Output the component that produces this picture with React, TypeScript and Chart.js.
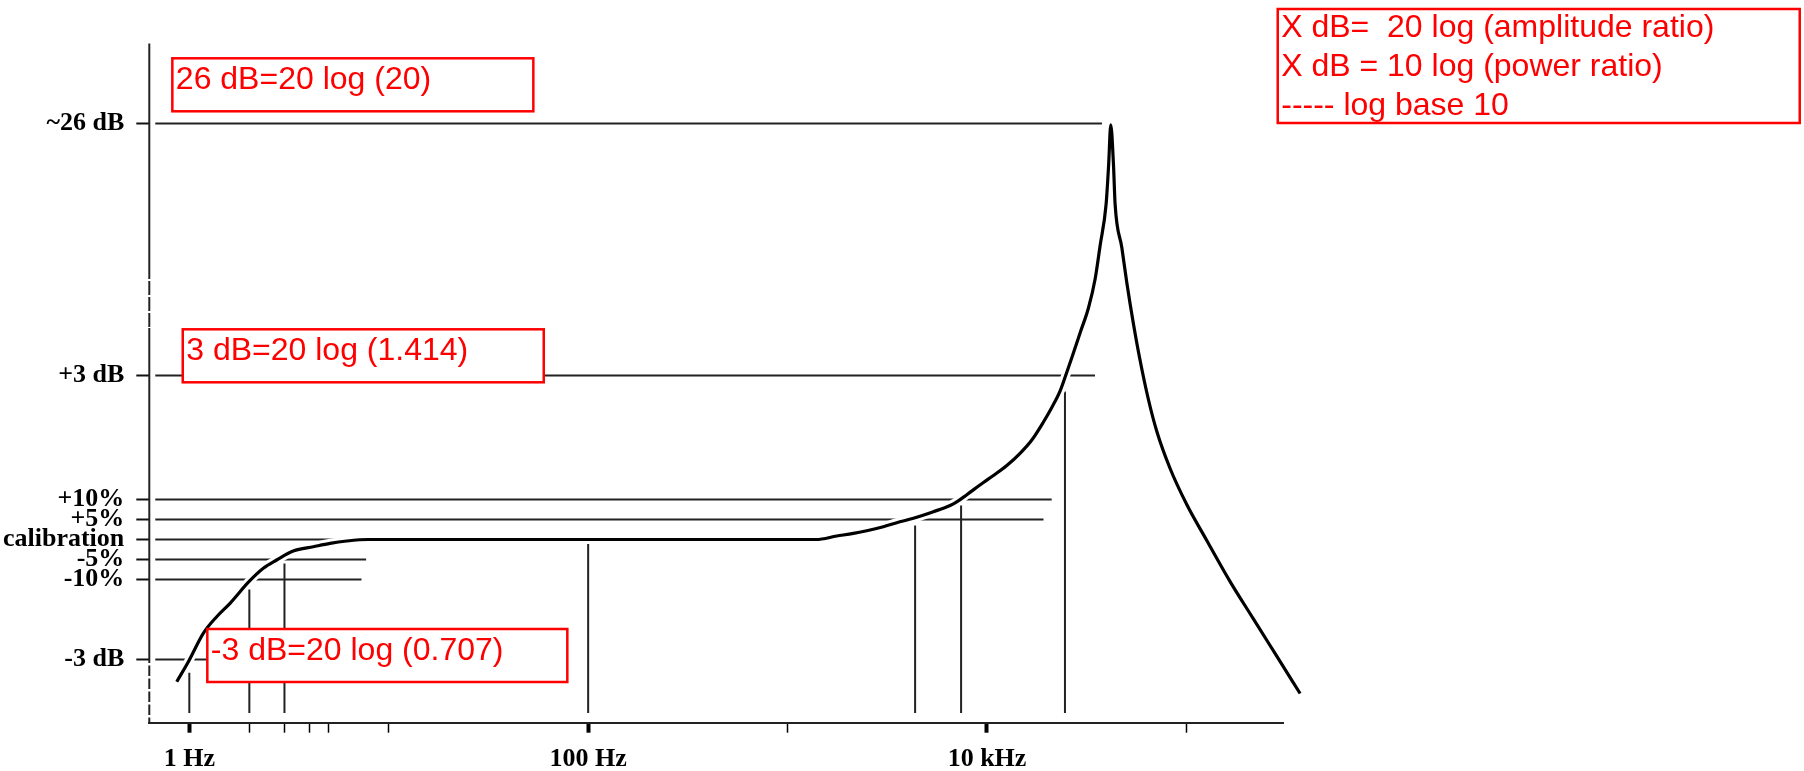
import React, { useEffect, useRef } from 'react';
import { Chart, registerables } from 'chart.js';

Chart.register(...registerables);

// ---------------- data ----------------
// Frequency response curve: frequency (Hz) and relative level (1 unit = one 5% step, 0 = calibration)
const curveHz = [
  0.865, 0.989, 1.175, 1.372, 1.6, 1.99, 2.35, 2.74, 3.32, 4.19, 5.08, 6.16, 7.9,
  100, 1390, 1765, 2138, 2495, 3022, 3529, 4276, 5386, 6531, 7050, 7920, 9594,
  10770, 12570, 14650, 16780, 19190, 21130, 23270, 25130, 26620, 29290, 32260,
  34850, 36910, 39550, 40720, 41750, 43050, 43900, 47430, 50230, 54200, 58590,
  64480, 71070, 82830, 100400, 126500, 165600, 216700, 283800, 371600,
];
const curveLevel = [
  -7.11, -6.11, -4.69, -3.86, -3.19, -2.11, -1.44, -1.025, -0.575, -0.36, -0.19, -0.075, 0,
  0, 0, 0.175, 0.31, 0.44, 0.64, 0.84, 1.06, 1.39, 1.7, 1.88, 2.24, 2.85,
  3.2, 3.7, 4.31, 4.975, 5.875, 6.6, 7.43, 8.365, 9.09, 10.33, 11.575,
  13.025, 14.685, 16.755, 18.7, 20.735, 18.8, 16.755, 14.6, 12.85, 10.8, 8.95,
  7.0, 5.4, 3.55, 1.75, -0.05, -2.105, -3.97, -5.835, -7.7,
];

// Y axis reference levels and their labels
const yTickValues = [-6, -2, -1, 0, 1, 2, 8.2, 20.8];
const yTickLabels = ['-3 dB', '-10%', '-5%', 'calibration', '+5%', '+10%', '+3 dB', '~26 dB'];
// horizontal reference lines: where each one ends (Hz)
const levelLineStartHz = 0.675;
const levelLineEndHz = [1.3, 7.3, 7.7, 8, 19200, 21100, 34800, 37700];

// X axis ticks
const xTickValues = [1, 2, 3, 4, 5, 10, 100, 1000, 10000, 100000];
const xTickLabels = ['1 Hz', '', '', '', '', '', '100 Hz', '', '10 kHz', ''];
const xMajorTicks = [1, 100, 10000];

// vertical drop lines from the curve to the axis
const dropHz = [1, 2, 3, 100, 4360, 7415, 24600];
const dropTopLevel = [-6.66, -2.5, -1.2, -0.2, 0.7, 1.7, 7.4];
const dropBottomLevel = -8.675;

// axis ranges
const X_MIN = 0.63;
const X_MAX = 305000;
const Y_MIN = -9.16;
const Y_MAX = 24.8;

// broken Y axis line: break points and which segments are dashed
const axisBreakLevels = [Y_MAX, 13.375, 10.575, -6.175, Y_MIN];
const axisDashPatterns = [[], [7, 9], [], [8, 5]];
const axisDashOffsets = [0, 7, 0, 8];

// red annotation boxes (anchored at top-left in data units)
const notes = [
  { text: ['26 dB=20 log (20)'], hz: 0.822, level: 24.06, w: 361, h: 53, base: 30.5 },
  { text: ['3 dB=20 log (1.414)'], hz: 0.927, level: 10.51, w: 361, h: 53, base: 30.5 },
  { text: ['-3 dB=20 log (0.707)'], hz: 1.231, level: -4.475, w: 360, h: 53, base: 30.5 },
  {
    text: ['X dB=  20 log (amplitude ratio)', 'X dB = 10 log (power ratio)', '----- log base 10'],
    hz: 287000,
    level: 26.525,
    w: 522,
    h: 114,
    base: 27.5,
  },
];

const SERIF = '"Liberation Serif", "Times New Roman", "DejaVu Serif", serif';
const SANS = '"Liberation Sans", Arial, "DejaVu Sans", sans-serif';

const notesPlugin = {
  id: 'notesBoxes',
  afterDatasetsDraw(chart: any) {
    const { ctx } = chart;
    const xs = chart.scales.x;
    const ys = chart.scales.y;
    ctx.save();
    for (const n of notes) {
      const left = xs.getPixelForValue(n.hz);
      const top = ys.getPixelForValue(n.level);
      ctx.fillStyle = '#ffffff';
      ctx.fillRect(left, top, n.w, n.h);
      ctx.strokeStyle = '#ff0000';
      ctx.lineWidth = 2.5;
      ctx.strokeRect(left, top, n.w, n.h);
      ctx.fillStyle = '#ff0000';
      ctx.font = `32px ${SANS}`;
      ctx.textAlign = 'left';
      ctx.textBaseline = 'alphabetic';
      n.text.forEach((t, i) => ctx.fillText(t, left + 3.5, top + n.base + i * 39));
    }
    ctx.restore();
  },
};

export default function App() {
  const canvasRef = useRef<HTMLCanvasElement | null>(null);

  useEffect(() => {
    if (!canvasRef.current) return;
    const curvePts = curveHz.map((hz, i) => ({ x: hz, y: curveLevel[i] }));
    const lineColor = '#222';
    const datasets: any[] = [];

    datasets.push({
      label: 'response',
      data: curvePts,
      borderColor: '#000',
      borderWidth: 3.2,
      cubicInterpolationMode: 'monotone',
      borderJoinStyle: 'round',
      pointRadius: 0,
      clip: false,
      order: 0,
    });
    datasets.push({
      label: 'halo',
      data: curvePts,
      borderColor: '#ffffff',
      borderWidth: 9,
      cubicInterpolationMode: 'monotone',
      pointRadius: 0,
      clip: false,
      order: 1,
    });
    yTickValues.forEach((lv, i) => {
      datasets.push({
        label: 'level ' + yTickLabels[i],
        data: [
          { x: levelLineStartHz, y: lv },
          { x: levelLineEndHz[i], y: lv },
        ],
        borderColor: lineColor,
        borderWidth: 2,
        pointRadius: 0,
        clip: false,
        order: 2,
      });
    });
    dropHz.forEach((hz, i) => {
      datasets.push({
        label: 'drop ' + hz,
        data: [
          { x: hz, y: dropTopLevel[i] },
          { x: hz, y: dropBottomLevel },
        ],
        borderColor: lineColor,
        borderWidth: 2,
        pointRadius: 0,
        clip: false,
        order: 2,
      });
    });
    datasets.push({
      label: 'y axis',
      data: axisBreakLevels.map((lv) => ({ x: X_MIN, y: lv })),
      borderColor: lineColor,
      borderWidth: 2,
      pointRadius: 0,
      clip: false,
      order: 2,
      segment: {
        borderDash: (c: any) => axisDashPatterns[c.p0DataIndex],
        borderDashOffset: (c: any) => axisDashOffsets[c.p0DataIndex],
      },
    });

    const chart = new Chart(canvasRef.current, {
      type: 'line',
      data: { datasets },
      plugins: [notesPlugin],
      options: {
        animation: false,
        responsive: true,
        maintainAspectRatio: false,
        events: [],
        layout: { padding: { left: 0, top: 43.5, right: 521, bottom: 0 } },
        plugins: {
          legend: { display: false },
          tooltip: { enabled: false },
          title: { display: false },
        },
        scales: {
          x: {
            type: 'logarithmic',
            position: 'bottom',
            min: X_MIN,
            max: X_MAX,
            bounds: 'data',
            afterBuildTicks: (s: any) => {
              s.ticks = xTickValues.map((v) => ({ value: v }));
            },
            afterFit: (s: any) => {
              s.height = 48.3;
            },
            ticks: {
              autoSkip: false,
              maxRotation: 0,
              minRotation: 0,
              padding: 11,
              color: '#000',
              font: { family: SERIF, size: 26, weight: 'bold' },
              callback: (_v: any, i: number) => xTickLabels[i] ?? '',
            },
            grid: {
              display: true,
              drawOnChartArea: false,
              drawTicks: true,
              tickLength: 10,
              tickColor: '#000',
              tickWidth: (c: any) => (c.tick && xMajorTicks.includes(c.tick.value) ? 4 : 1.5),
            },
            border: { display: true, color: lineColor, width: 2 },
          },
          y: {
            type: 'linear',
            position: 'left',
            min: Y_MIN,
            max: Y_MAX,
            bounds: 'data',
            afterBuildTicks: (s: any) => {
              s.ticks = yTickValues.map((v) => ({ value: v }));
            },
            afterFit: (s: any) => {
              s.width = 149.3;
            },
            ticks: {
              autoSkip: false,
              padding: 12,
              color: '#000',
              font: { family: SERIF, size: 26, weight: 'bold' },
              callback: (_v: any, i: number) => yTickLabels[i] ?? '',
            },
            grid: {
              display: true,
              drawOnChartArea: false,
              drawTicks: true,
              tickLength: 13,
              tickColor: '#111',
              tickWidth: 2,
            },
            border: { display: false },
          },
        },
      } as any,
    });

    return () => chart.destroy();
  }, []);

  return (
    <div
      style={{
        position: 'absolute',
        left: 0,
        top: 0,
        width: '1804px',
        height: '771px',
        background: '#ffffff',
      }}
    >
      <canvas ref={canvasRef} />
    </div>
  );
}
